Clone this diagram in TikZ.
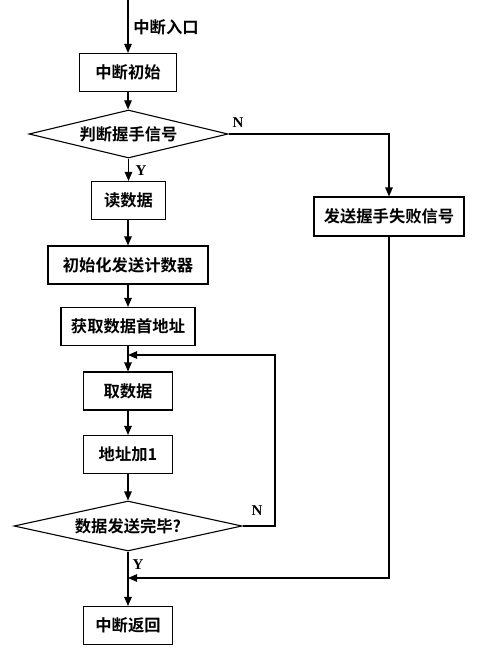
\documentclass[tikz,border=0pt]{standalone}
\usepackage{fontspec}
\newfontfamily\cjk{Noto Sans CJK SC}[BoldFont={Noto Sans CJK SC Bold}]
\newfontfamily\lat{Liberation Serif}
\usetikzlibrary{shapes.geometric,arrows.meta}
\begin{document}
\begin{tikzpicture}[x=1pt,y=-1pt,
  every node/.style={font=\cjk\bfseries\fontsize{16.3}{19}\selectfont, inner sep=0pt},
  box/.style={draw, line width=1.1pt, minimum height=38pt},
  dia/.style={draw, diamond, line width=1.1pt, aspect=4},
  lbl/.style={font=\lat\bfseries\fontsize{15}{17}\selectfont},
  arr/.style={line width=1.1pt, -{Triangle[length=9pt,width=7.5pt]}},
  ln/.style={line width=1.1pt}]
\useasboundingbox (0,0) rectangle (488,650);
\coordinate (start) at (128,0);
\node[box, minimum width=97pt] (init) at (128,72.5) {中断初始};
\node[dia, minimum width=199pt, minimum height=48pt] (d1) at (128.5,134) {判断握手信号};
\node[box, minimum width=74pt] (read) at (128.5,200.5) {读数据};
\node[box, minimum width=160pt] (initc) at (128,265) {初始化发送计数器};
\node[box, minimum width=134pt] (getaddr) at (128,326.5) {获取数据首地址};
\node[box, minimum width=89pt] (fetch) at (128,391) {取数据};
\node[box, minimum width=89pt] (addr) at (128,454.5) {地址加1};
\node[dia, minimum width=228pt, minimum height=50pt] (d2) at (128,526) {数据发送完毕?};
\node[box, minimum width=89pt] (ret) at (128,625.5) {中断返回};
\node[box, minimum width=150pt, minimum height=39pt] (fail) at (389,216.5) {发送握手失败信号};
% labels
\node (entry) at (166,27) {中断入口};
\node[lbl] (n1) at (238,123) {N};
\node[lbl] (y1) at (141,171) {Y};
\node[lbl] (n2) at (257,511) {N};
\node[lbl] (y2) at (138,565) {Y};
% coordinates
\coordinate (m1) at (128,355);
\coordinate (m2) at (128,578);
\coordinate (c1) at (389,134);
\coordinate (c2) at (275,526);
\coordinate (c3) at (275,355);
\coordinate (c4) at (389,578);
% main flow
\draw[arr] (start) -- (init);
\draw[arr] (init) -- (init |- d1.north);
\draw[arr] (d1.south -| read) -- (read);
\draw[arr] (read.south -| initc) -- (initc);
\draw[arr] (initc) -- (getaddr);
\draw[arr] (getaddr) -- (fetch);
\draw[arr] (fetch) -- (addr);
\draw[arr] (addr) -- (d2);
\draw[arr] (d2) -- (ret);
% N branch
\draw[arr] (d1.east) -- (c1) -- (fail);
\draw[arr] (fail) -- (c4) -- (m2);
% loop
\draw[arr] (d2.east) -- (c2) -- (c3) -- (m1);
\end{tikzpicture}
\end{document}
